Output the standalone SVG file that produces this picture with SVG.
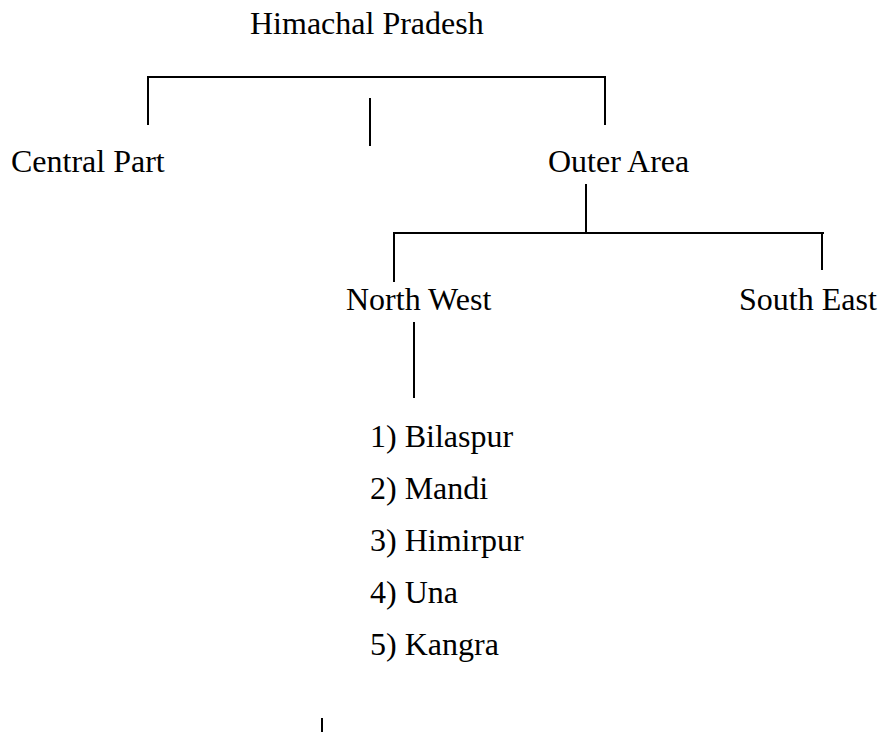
<svg xmlns="http://www.w3.org/2000/svg" width="880" height="733" viewBox="0 0 880 733">
  <style>
    .lbl { font-family: "Liberation Serif", "Times New Roman", serif; font-size: 32px; fill: #000; }
    .wire { stroke: #000; stroke-width: 2; fill: none; }
  </style>
  <rect width="880" height="733" fill="#fff"/>
  <g id="connectors">
    <path class="wire" d="M148,125 V77 H605 V125"/>
    <path class="wire" d="M370,98 V146"/>
    <path class="wire" d="M586,184 V232"/>
    <path class="wire" d="M394,282 V233 H824"/>
    <path class="wire" d="M822,233 V270"/>
    <path class="wire" d="M414,322 V398"/>
    <path class="wire" d="M322,718 V732"/>
  </g>
  <g id="himachal-pradesh"><text class="lbl" x="250" y="34">Himachal Pradesh</text></g>
  <g id="central-part"><text class="lbl" x="11" y="172">Central Part</text></g>
  <g id="outer-area"><text class="lbl" x="548" y="172">Outer Area</text></g>
  <g id="north-west"><text class="lbl" x="346" y="310">North West</text></g>
  <g id="south-east"><text class="lbl" x="739" y="310">South East</text></g>
  <g id="districts">
    <text class="lbl" x="370" y="447">1) Bilaspur</text>
    <text class="lbl" x="370" y="499">2) Mandi</text>
    <text class="lbl" x="370" y="551">3) Himirpur</text>
    <text class="lbl" x="370" y="603">4) Una</text>
    <text class="lbl" x="370" y="655">5) Kangra</text>
  </g>
</svg>
